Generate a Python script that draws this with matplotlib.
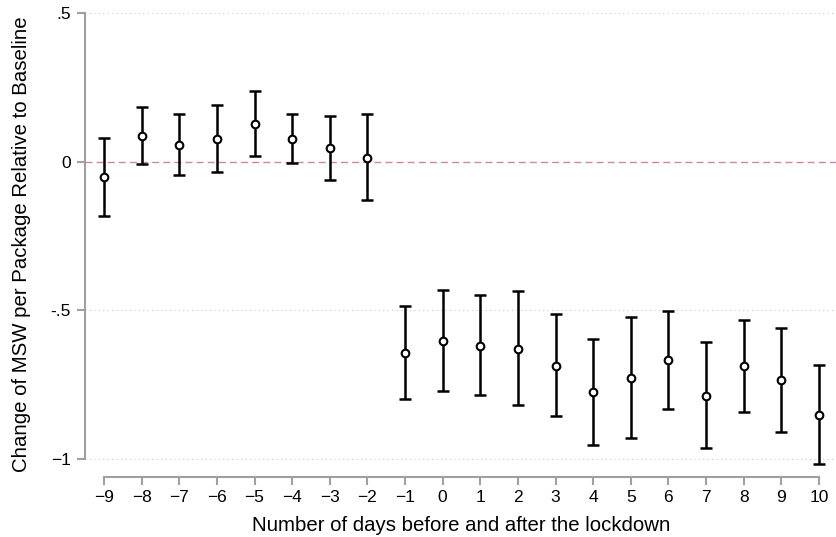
import matplotlib
matplotlib.use("Agg")
import matplotlib.pyplot as plt

days = [-9, -8, -7, -6, -5, -4, -3, -2, -1, 0, 1, 2, 3, 4, 5, 6, 7, 8, 9, 10]
coef = [-0.050, 0.088, 0.056, 0.078, 0.128, 0.077, 0.046, 0.014,
        -0.642, -0.602, -0.618, -0.628, -0.686, -0.774, -0.727, -0.668, -0.786, -0.687, -0.735, -0.851]
ci_hi = [0.081, 0.183, 0.160, 0.189, 0.239, 0.160, 0.155, 0.160,
         -0.484, -0.432, -0.448, -0.436, -0.513, -0.597, -0.522, -0.503, -0.607, -0.531, -0.560, -0.684]
ci_lo = [-0.182, -0.007, -0.046, -0.034, 0.019, -0.006, -0.060, -0.130,
         -0.799, -0.771, -0.785, -0.818, -0.855, -0.953, -0.930, -0.833, -0.962, -0.843, -0.910, -1.017]
ytick_vals = [-1, -0.5, 0, 0.5]
ytick_labels = ["\u22121", "-.5", "0", ".5"]
xtick_labels = [("\u2212" + str(-d)) if d < 0 else str(d) for d in days]

plt.rcParams['font.family'] = ['Liberation Sans', 'DejaVu Sans']

fig = plt.figure(figsize=(8.37, 5.37), dpi=100)
ax = fig.add_axes([85/837, 60/537, 1 - 85/837, (477 - 11)/537])

ax.set_xlim(-9.505, 10.48)
ax.set_ylim(-1.06, 0.5067)

grey = '#a0a0a0'
for v in ytick_vals:
    if v == 0:
        continue
    ax.axhline(v, color='#c8c8c8', linestyle=(0, (1, 3)), linewidth=0.8, zorder=0)
ax.axhline(0, color='#cc88aa', linestyle=(0, (5, 3)), linewidth=1.0, zorder=1)

yerr_lo = [c - l for c, l in zip(coef, ci_lo)]
yerr_hi = [h - c for c, h in zip(coef, ci_hi)]
ax.errorbar(days, coef, yerr=[yerr_lo, yerr_hi], fmt='none', ecolor='black',
            elinewidth=1.8, capsize=4.5, capthick=1.8, zorder=2)
ax.plot(days, coef, 'o', markerfacecolor='white', markeredgecolor='black',
        markersize=5.5, markeredgewidth=1.5, zorder=3)

for s in ['top', 'right']:
    ax.spines[s].set_visible(False)
ax.spines['left'].set_color(grey)
ax.spines['bottom'].set_color(grey)
ax.spines['left'].set_linewidth(1.5)
ax.spines['bottom'].set_linewidth(1.5)
ax.spines['left'].set_bounds(-1, 0.5)
ax.spines['bottom'].set_bounds(-9, 10)

ax.set_yticks(ytick_vals)
ax.set_yticklabels(ytick_labels)
ax.set_xticks(days)
ax.set_xticklabels(xtick_labels)
ax.tick_params(axis='both', colors=grey, labelcolor='black', labelsize=12.5,
               length=6, width=1.5)
ax.tick_params(axis='y', pad=4)
ax.tick_params(axis='x', pad=3)

ax.set_xlabel('Number of days before and after the lockdown', fontsize=14.7, labelpad=8)
ax.set_ylabel('Change of MSW per Package Relative to Baseline', fontsize=14.7, labelpad=14)

fig.savefig('out.png', dpi=100)
